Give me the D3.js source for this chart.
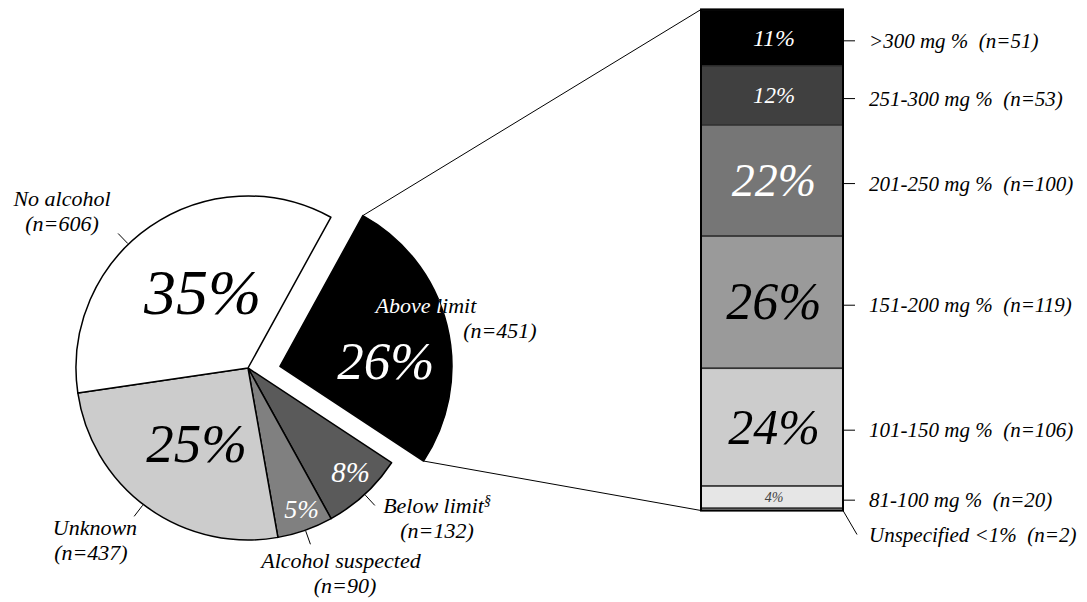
<!DOCTYPE html>
<html>
<head>
<meta charset="utf-8">
<script src="https://cdn.jsdelivr.net/npm/d3@7"></script>
</head>
<body style="margin:0">
<svg id="chart" width="1087" height="602"></svg>
<script>
// pie, clockwise from the exploded slice
var pieNames = ["Above limit", "Below limit", "Alcohol suspected", "Unknown", "No alcohol"];
var pieNotes = ["", "\u00a7", "", "", ""];
var pieCounts = [451, 132, 90, 437, 606];

// breakdown of "Above limit", top to bottom
var barNames = [">300 mg %", "251-300 mg %", "201-250 mg %", "151-200 mg %", "101-150 mg %", "81-100 mg %", "Unspecified <1%"];
var barCounts = [51, 53, 100, 119, 106, 20, 2];

// styles
var pieFills = ["#000", "#5a5a5a", "#808080", "#cccccc", "#fff"];
var pctSize = [53, 29, 26, 55, 64];
var pctColor = ["#fff", "#fff", "#fff", "#000", "#000"];
var pctAngle = [87.5, 135.4, 159.2, 214, 329];
var pctR = [106, 146, 151, 92, 88];
var labAngle = [71.9, 128.6, 155.7, 221.5, 310];
var labR = [153.6, 241.9, 226, 231, 242.8];
var lab2Dx = [74, 0, 4, -4, 0];
var leadAngle = [null, 137.3, 160.5, 217.5, 316];

var barFills = ["#000", "#404040", "#767676", "#9a9a9a", "#cccccc", "#e6e6e6", "#fff"];
var barPctSize = [24, 23, 46, 52, 50, 14, 0];
var barPctColor = ["#fff", "#fff", "#fff", "#000", "#000", "#444", "#000"];

var svg = d3.select("#chart");
var rad = Math.PI / 180;
var cx = 248, cy = 368, R = 172;
var start = 28.8 * rad;
var total = d3.sum(pieCounts);

function polar(a, r) { return [r * Math.sin(a * rad), -r * Math.cos(a * rad)]; }

var pie = d3.pie().sort(null).value(function(d) { return d; })
    .startAngle(start).endAngle(start + 2 * Math.PI);
var arcs = pie(pieCounts);
var arc = d3.arc().innerRadius(0).outerRadius(R);

var off = arcs.map(function(d, i) { return i === 0 ? polar(87, 32) : [0, 0]; });

svg.append("defs").append("clipPath").attr("id", "aboveClip")
  .append("path").attr("d", arc(arcs[0]));

var g = svg.append("g").attr("transform", "translate(" + cx + "," + cy + ")");

var slice = g.selectAll("g.slice").data(arcs).enter().append("g")
    .attr("class", "slice")
    .attr("transform", function(d, i) { return "translate(" + off[i] + ")"; });

slice.append("path")
    .attr("d", arc)
    .attr("fill", function(d, i) { return pieFills[i]; })
    .attr("stroke", "#000")
    .attr("stroke-width", 1.5)
    .attr("stroke-linejoin", "round");

// percent labels
slice.append("text")
    .attr("x", function(d, i) { return polar(pctAngle[i], pctR[i])[0]; })
    .attr("y", function(d, i) { return polar(pctAngle[i], pctR[i])[1] + pctSize[i] * 0.33; })
    .attr("text-anchor", "middle")
    .attr("font-size", function(d, i) { return pctSize[i]; })
    .attr("fill", function(d, i) { return pctColor[i]; })
    .text(function(d) { return Math.round(d.value / total * 100) + "%"; });

// leader lines
slice.filter(function(d, i) { return leadAngle[i] != null; }).append("line")
    .each(function(d) {
      var i = arcs.indexOf(d);
      var p1 = polar(leadAngle[i], R + 1), p2 = polar(leadAngle[i], R + 15);
      d3.select(this).attr("x1", p1[0]).attr("y1", p1[1]).attr("x2", p2[0]).attr("y2", p2[1]);
    })
    .attr("stroke", "#000").attr("stroke-width", 1);

// names
function nameLabel(sel, colour) {
  sel.each(function(d) {
    var i = arcs.indexOf(d);
    var p = polar(labAngle[i], labR[i]);
    var t = d3.select(this).append("text")
        .attr("font-size", 22).attr("fill", colour).attr("text-anchor", "middle");
    t.append("tspan").attr("x", p[0]).attr("y", p[1] - 6).text(pieNames[i]);
    if (pieNotes[i]) t.append("tspan").attr("dy", -8).attr("font-size", 14).text(pieNotes[i]);
    t.append("tspan").attr("x", p[0] + lab2Dx[i]).attr("y", p[1] + 19).text("(n=" + pieCounts[i] + ")");
  });
}
nameLabel(slice, "#000");
// white copy of the exploded slice's label, visible only over the slice
var aboveG = slice.filter(function(d, i) { return i === 0; });
nameLabel(aboveG.append("g").attr("clip-path", "url(#aboveClip)"), "#fff");

// stacked bar
var barX = 701, barW = 142;
var y = d3.scaleLinear().domain([0, d3.sum(barCounts)]).range([9.5, 510.5]);
var cum = Array.from(d3.cumsum([0].concat(barCounts)));
var segs = barCounts.map(function(v, i) {
  return { name: barNames[i], n: v, y0: cum[i], y1: cum[i + 1], i: i };
});

var bar = svg.append("g");
bar.selectAll("rect.seg").data(segs).enter().append("rect")
    .attr("class", "seg")
    .attr("x", barX).attr("width", barW)
    .attr("y", function(d) { return y(d.y0); })
    .attr("height", function(d) { return y(d.y1) - y(d.y0); })
    .attr("fill", function(d) { return barFills[d.i]; })
    .attr("stroke", "#333").attr("stroke-width", 1.5);

bar.append("rect")
    .attr("x", barX).attr("y", y(0)).attr("width", barW).attr("height", y(cum[cum.length - 1]) - y(0))
    .attr("fill", "none").attr("stroke", "#000").attr("stroke-width", 2);

bar.selectAll("text.pct").data(segs.filter(function(d) { return barPctSize[d.i] > 0; })).enter().append("text")
    .attr("class", "pct")
    .attr("x", barX + barW / 2 + 2)
    .attr("y", function(d) { return (y(d.y0) + y(d.y1)) / 2 + barPctSize[d.i] * 0.33; })
    .attr("text-anchor", "middle")
    .attr("font-size", function(d) { return barPctSize[d.i]; })
    .attr("fill", function(d) { return barPctColor[d.i]; })
    .text(function(d) { return Math.round(d.n / d3.sum(barCounts) * 100) + "%"; });

// right-hand labels
segs.forEach(function(d, k) {
  var last = k === segs.length - 1;
  var ty = last ? y(d.y1) + 24 : (y(d.y0) + y(d.y1)) / 2 + 3;
  bar.append("line")
      .attr("x1", barX + barW).attr("y1", last ? y(d.y1) : ty)
      .attr("x2", barX + barW + (last ? 14 : 12)).attr("y2", ty)
      .attr("stroke", "#000").attr("stroke-width", 1);
  bar.append("text")
      .attr("x", barX + barW + 26).attr("y", ty + 7)
      .attr("font-size", 21)
      .text(d.name + "\u00a0 (n=" + d.n + ")");
});

// connectors from the exploded slice to the bar
var a0 = arcs[0].startAngle / rad, a1 = arcs[0].endAngle / rad;
var pTop = polar(a0, R), pBot = polar(a1, R);
svg.append("line")
    .attr("x1", cx + off[0][0] + pTop[0]).attr("y1", cy + off[0][1] + pTop[1])
    .attr("x2", barX).attr("y2", y(0))
    .attr("stroke", "#000").attr("stroke-width", 1);
svg.append("line")
    .attr("x1", cx + off[0][0] + pBot[0]).attr("y1", cy + off[0][1] + pBot[1])
    .attr("x2", barX).attr("y2", y(cum[cum.length - 1]))
    .attr("stroke", "#000").attr("stroke-width", 1);

// one serif italic face for every label
svg.selectAll("text").attr("font-family", "Times New Roman").attr("font-style", "italic");
</script>
</body>
</html>
